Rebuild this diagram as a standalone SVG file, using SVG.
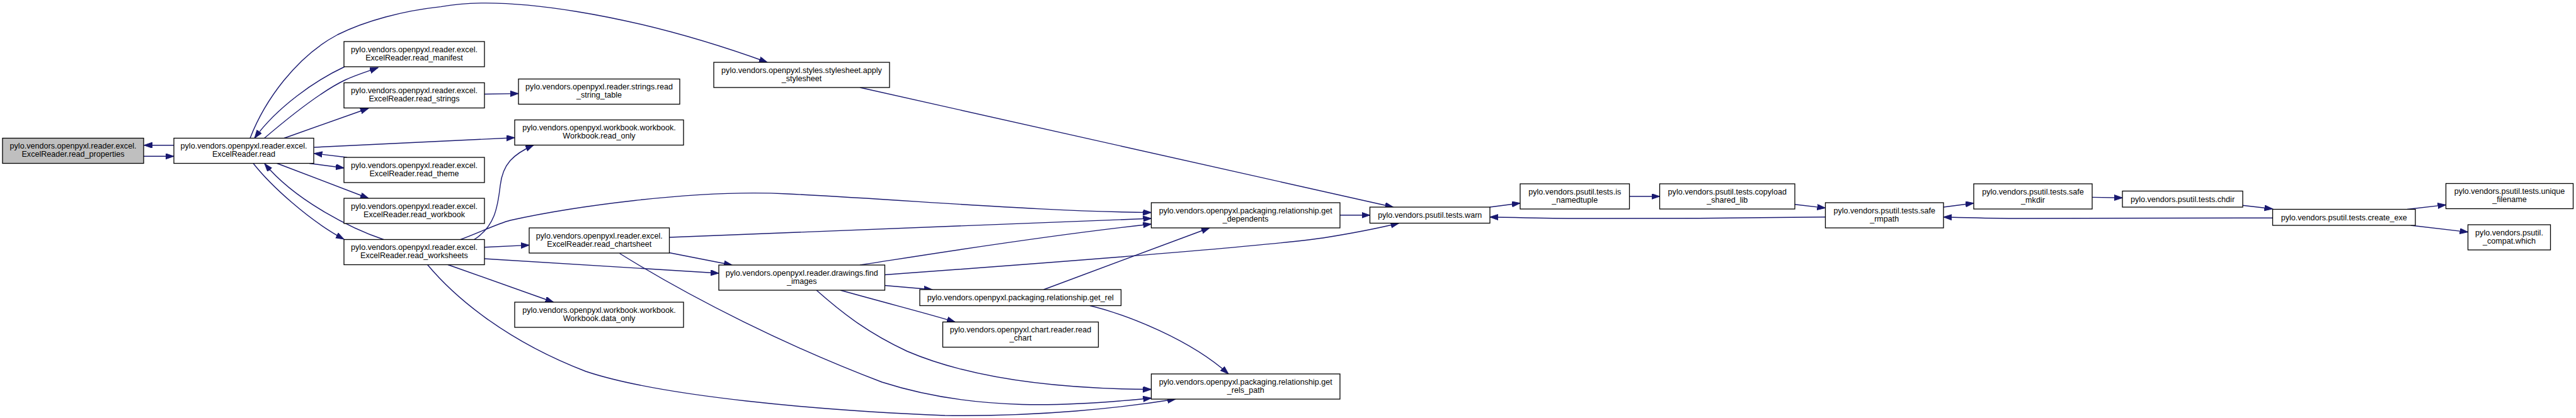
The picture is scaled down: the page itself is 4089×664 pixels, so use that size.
<svg xmlns="http://www.w3.org/2000/svg" width="4089" height="664" viewBox="0 0 4089 664">
<defs>
<style>
.n rect{fill:#ffffff;stroke:#000000;stroke-width:1.3}
.n.hl rect{fill:#bfbfbf}
.n text{font-family:"Liberation Sans",Arial,sans-serif;font-size:12.6px;fill:#000000;text-anchor:middle}
.e path{fill:none;stroke:#191970;stroke-width:1.4;marker-end:url(#arr)}
</style>
<marker id="arr" markerUnits="userSpaceOnUse" markerWidth="14" markerHeight="10" refX="13" refY="4.5" orient="auto">
<path d="M0,0 L13,4.5 L0,9 z" fill="#191970" stroke="#191970" stroke-width="1"/>
</marker>
</defs>
<rect width="4089" height="664" fill="#ffffff"/>
<g id="edges" class="e">
<path d="M276,230.7 L228.5,230.7"/>
<path d="M228,248.3 L276,248.3"/>
<path d="M419.6,219.5 C460,185 510,145 548,127 C565,119 585,113 600,107.5"/>
<path d="M547,106 C500,128 440,170 404,219.5"/>
<path d="M451,219.5 L585,172"/>
<path d="M397,219.5 C420,160 470,90 536,55 C580,33 640,17 700,10.6 C800,-8 1000,20 1218,99"/>
<path d="M498.5,234 L817,218.7"/>
<path d="M491,259.5 L546,266.7"/>
<path d="M551,250 L498.5,243.7"/>
<path d="M439.7,259.5 L585,315"/>
<path d="M402,259.5 C430,295 490,350 546,380"/>
<path d="M609,380.5 C560,364 470,320 420,260"/>
<path d="M752.7,380.5 C785,360 790,330 794,295 C798,260 815,245 847,230.5"/>
<path d="M731,380.5 C760,370 790,355 810,350 C900,330 1100,300 1250,308 C1450,318 1650,336 1827.5,337.6"/>
<path d="M769,392.8 L840,389.4"/>
<path d="M769,411 L1141,434"/>
<path d="M711,420.5 L878.6,480"/>
<path d="M678.6,420.5 C720,470 800,540 930,590 C1050,630 1300,652 1500,660 C1650,662 1780,648 1866,634"/>
<path d="M1062.5,377 L1827.5,347"/>
<path d="M1062.5,401.5 L1162,421"/>
<path d="M983.5,402.5 C1100,475 1250,550 1400,607 C1550,655 1700,645 1827.5,632.5"/>
<path d="M1365,421 C1450,408 1650,375 1827.5,356"/>
<path d="M1404.5,436.5 C1700,415 2000,392 2100,378 C2150,370 2190,362 2220.5,354.5"/>
<path d="M1404.5,453.5 L1480,460"/>
<path d="M1334,461 C1420,485 1480,500 1516,511.5"/>
<path d="M1296,461 C1340,500 1380,530 1440,558 C1550,605 1700,618 1827.5,618.5"/>
<path d="M1656.7,460 L1920,362"/>
<path d="M1730,485.5 C1790,500 1890,540 1950,594"/>
<path d="M1365,139 L2211.6,329"/>
<path d="M2127,341.8 L2174.5,341.8"/>
<path d="M2365,329 L2413,322.7"/>
<path d="M2586.5,312 L2634.5,312"/>
<path d="M2849,324.8 L2897.5,330.4"/>
<path d="M2897.5,344.8 C2800,346.5 2600,347.5 2500,347 C2450,346.8 2400,345.5 2365,344.8"/>
<path d="M3085,329 L3133,322.7"/>
<path d="M3321,313.4 L3369,314.2"/>
<path d="M3559.7,326.3 L3607.5,331.8"/>
<path d="M3607.5,346.2 C3450,346.5 3300,347.5 3200,347 C3150,346.8 3110,345.5 3085,344.8"/>
<path d="M3821,332.5 L3882.5,325.4"/>
<path d="M3826.8,358 L3917.5,368.6"/>
<path d="M769,149.5 L823,148.6"/>
</g>
<g id="read_properties" class="n hl"><rect x="4" y="219.5" width="224" height="40"/><text x="116" y="236">pylo.vendors.openpyxl.reader.excel.</text><text x="116" y="249">ExcelReader.read_properties</text></g>
<g id="read" class="n"><rect x="276" y="219.5" width="222" height="40"/><text x="387" y="236">pylo.vendors.openpyxl.reader.excel.</text><text x="387" y="249">ExcelReader.read</text></g>
<g id="read_manifest" class="n"><rect x="546" y="66" width="223" height="40"/><text x="657.5" y="82.5">pylo.vendors.openpyxl.reader.excel.</text><text x="657.5" y="95.5">ExcelReader.read_manifest</text></g>
<g id="read_strings" class="n"><rect x="546" y="131.5" width="223" height="40"/><text x="657.5" y="148">pylo.vendors.openpyxl.reader.excel.</text><text x="657.5" y="161">ExcelReader.read_strings</text></g>
<g id="read_theme" class="n"><rect x="546" y="250" width="223" height="40"/><text x="657.5" y="266.5">pylo.vendors.openpyxl.reader.excel.</text><text x="657.5" y="279.5">ExcelReader.read_theme</text></g>
<g id="read_workbook" class="n"><rect x="546" y="315" width="223" height="40"/><text x="657.5" y="331.5">pylo.vendors.openpyxl.reader.excel.</text><text x="657.5" y="344.5">ExcelReader.read_workbook</text></g>
<g id="read_worksheets" class="n"><rect x="546" y="380.5" width="223" height="40"/><text x="657.5" y="397">pylo.vendors.openpyxl.reader.excel.</text><text x="657.5" y="410">ExcelReader.read_worksheets</text></g>
<g id="apply_stylesheet" class="n"><rect x="1133" y="99" width="279" height="40"/><text x="1272.5" y="115.5">pylo.vendors.openpyxl.styles.stylesheet.apply</text><text x="1272.5" y="128.5">_stylesheet</text></g>
<g id="read_string_table" class="n"><rect x="823" y="125.5" width="256" height="40"/><text x="951" y="142">pylo.vendors.openpyxl.reader.strings.read</text><text x="951" y="155">_string_table</text></g>
<g id="read_only" class="n"><rect x="817" y="190.5" width="268" height="40"/><text x="951" y="207">pylo.vendors.openpyxl.workbook.workbook.</text><text x="951" y="220">Workbook.read_only</text></g>
<g id="read_chartsheet" class="n"><rect x="840" y="362" width="222.5" height="40"/><text x="951.25" y="378.5">pylo.vendors.openpyxl.reader.excel.</text><text x="951.25" y="391.5">ExcelReader.read_chartsheet</text></g>
<g id="find_images" class="n"><rect x="1141" y="421" width="263.5" height="40"/><text x="1272.75" y="437.5">pylo.vendors.openpyxl.reader.drawings.find</text><text x="1272.75" y="450.5">_images</text></g>
<g id="data_only" class="n"><rect x="817" y="480" width="268" height="40"/><text x="951" y="496.5">pylo.vendors.openpyxl.workbook.workbook.</text><text x="951" y="509.5">Workbook.data_only</text></g>
<g id="get_dependents" class="n"><rect x="1827.5" y="322" width="299.5" height="40"/><text x="1977.25" y="338.5">pylo.vendors.openpyxl.packaging.relationship.get</text><text x="1977.25" y="351.5">_dependents</text></g>
<g id="get_rel" class="n"><rect x="1460" y="460" width="319.5" height="25.5"/><text x="1619.75" y="477.25">pylo.vendors.openpyxl.packaging.relationship.get_rel</text></g>
<g id="read_chart" class="n"><rect x="1496.5" y="511.5" width="247" height="40"/><text x="1620" y="528">pylo.vendors.openpyxl.chart.reader.read</text><text x="1620" y="541">_chart</text></g>
<g id="get_rels_path" class="n"><rect x="1827.5" y="594" width="299.5" height="40"/><text x="1977.25" y="610.5">pylo.vendors.openpyxl.packaging.relationship.get</text><text x="1977.25" y="623.5">_rels_path</text></g>
<g id="warn" class="n"><rect x="2174.5" y="329" width="190.5" height="25.5"/><text x="2269.75" y="346.25">pylo.vendors.psutil.tests.warn</text></g>
<g id="is_namedtuple" class="n"><rect x="2413" y="292" width="173.5" height="40"/><text x="2499.75" y="308.5">pylo.vendors.psutil.tests.is</text><text x="2499.75" y="321.5">_namedtuple</text></g>
<g id="copyload_shared_lib" class="n"><rect x="2634.5" y="292" width="214.5" height="40"/><text x="2741.75" y="308.5">pylo.vendors.psutil.tests.copyload</text><text x="2741.75" y="321.5">_shared_lib</text></g>
<g id="safe_rmpath" class="n"><rect x="2897.5" y="322" width="187.5" height="40"/><text x="2991.25" y="338.5">pylo.vendors.psutil.tests.safe</text><text x="2991.25" y="351.5">_rmpath</text></g>
<g id="safe_mkdir" class="n"><rect x="3133" y="292" width="188" height="40"/><text x="3227" y="308.5">pylo.vendors.psutil.tests.safe</text><text x="3227" y="321.5">_mkdir</text></g>
<g id="chdir" class="n"><rect x="3369" y="303.5" width="191" height="25.5"/><text x="3464.5" y="320.75">pylo.vendors.psutil.tests.chdir</text></g>
<g id="create_exe" class="n"><rect x="3607.5" y="332.5" width="226.5" height="25.5"/><text x="3720.75" y="349.75">pylo.vendors.psutil.tests.create_exe</text></g>
<g id="unique_filename" class="n"><rect x="3882.5" y="291.5" width="202" height="40"/><text x="3983.5" y="308">pylo.vendors.psutil.tests.unique</text><text x="3983.5" y="321">_filename</text></g>
<g id="compat_which" class="n"><rect x="3917.5" y="357" width="131" height="40"/><text x="3983" y="373.5">pylo.vendors.psutil.</text><text x="3983" y="386.5">_compat.which</text></g>
</svg>
